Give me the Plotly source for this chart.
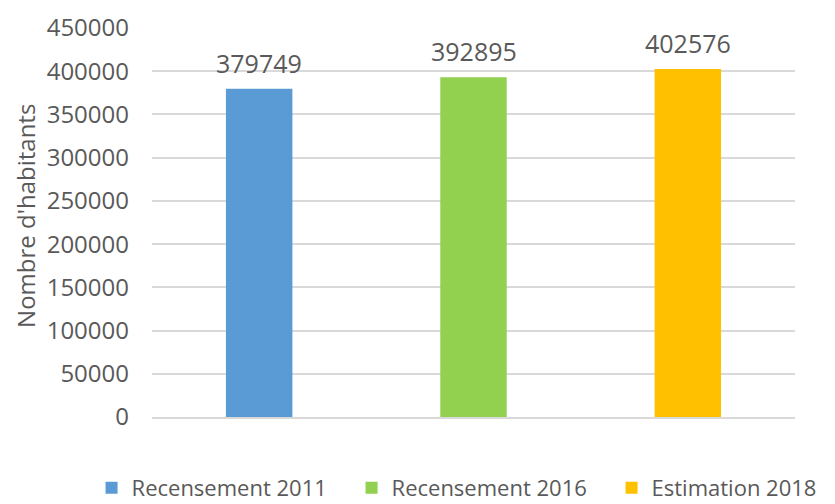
import plotly.graph_objects as go

categories = ["Recensement 2011", "Recensement 2016", "Estimation 2018"]
values = [379749, 392895, 402576]
colors = ["#5b9bd5", "#92d050", "#ffc000"]
y_ticks = [0, 50000, 100000, 150000, 200000, 250000, 300000, 350000, 400000, 450000]
y_title = "Nombre d'habitants"

FONT = "Open Sans"
GRAY = "#595959"

fig = go.Figure()
for cat, val, col in zip(categories, values, colors):
    fig.add_trace(go.Bar(
        x=[cat], y=[val], name=cat,
        marker=dict(color=col, line=dict(width=0)),
        width=0.31,
        cliponaxis=False,
    ))
    fig.add_annotation(x=cat, y=val, text=str(val), showarrow=False,
                       yanchor="bottom", yshift=7,
                       font=dict(family=FONT, size=25, color=GRAY))

fig.add_annotation(xref="paper", yref="paper", x=-0.1965, y=0.516,
                   xanchor="center", yanchor="middle", textangle=-90,
                   text=y_title, showarrow=False,
                   font=dict(family=FONT, size=24, color=GRAY))

fig.update_layout(
    width=827, height=496,
    margin=dict(l=144, r=40, t=20, b=87, autoexpand=False),
    paper_bgcolor="white", plot_bgcolor="white",
    barmode="overlay",
    showlegend=True,
    legend=dict(orientation="h", x=-0.094, xanchor="left", y=-0.1825, yanchor="middle",
                font=dict(family=FONT, size=22, color=GRAY), itemwidth=30,
                entrywidth=215,
                bgcolor="rgba(0,0,0,0)", traceorder="normal"),
    font=dict(family=FONT, color=GRAY),
)
fig.update_xaxes(showticklabels=False, showgrid=False, zeroline=False, automargin=False,
                 showline=True, linecolor="#d9d9d9", linewidth=1.5)
fig.update_yaxes(range=[0, 450000], tickvals=y_ticks, tickformat="d",
                 showgrid=True, gridcolor="#d9d9d9", gridwidth=1.5,
                 zeroline=False, showline=False, automargin=False,
                 tickfont=dict(family=FONT, size=24, color=GRAY),
                 ticklabelstandoff=22)

fig.write_html("out.html")
